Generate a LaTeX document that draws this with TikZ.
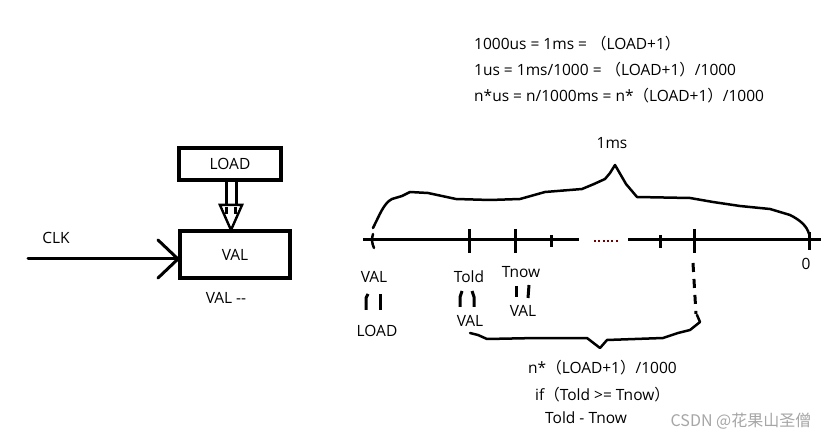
\documentclass[tikz,border=0pt]{standalone}
\usepackage{fontspec}
\usetikzlibrary{calc}
\setmainfont{Open Sans}
\newfontfamily\cjkfont{Noto Sans CJK SC}
\newcommand{\flp}{{\cjkfont （}}
\newcommand{\frp}{{\cjkfont ）}}
\begin{document}
\begin{tikzpicture}[x=1pt,y=-1pt,
  lbl/.style={inner sep=0pt,font=\fontsize{15.5}{17}\selectfont},
  boxst/.style={draw,line width=4pt,inner sep=0pt,font=\fontsize{15.5}{17}\selectfont},
  pen/.style={line width=3pt,line cap=round,line join=round},
  thin pen/.style={line width=2.5pt,line cap=round,line join=round},
  mark pen/.style={line width=3pt}]
\useasboundingbox[fill=white] (0,0) rectangle (840,443);

% top formulas
\node[lbl,anchor=west] (f1) at (474,44) {1000us = 1ms = \flp LOAD+1\frp};
\node[lbl,anchor=west] (f2) at (474,70) {1us = 1ms/1000 = \flp LOAD+1\frp /1000};
\node[lbl,anchor=west] (f3) at (474,96) {n*us = n/1000ms = n*\flp LOAD+1\frp /1000};

% left block diagram
\node[boxst,minimum width=102pt,minimum height=32pt] (load) at (230,164) {LOAD};
\node[boxst,minimum width=110pt,minimum height=47pt] (val) at (235,255) {VAL};
\node[lbl] (valdec) at (226,298) {VAL -{}-};
\node[lbl] (clk) at (56,238) {CLK};
\coordinate (clkin) at (28,259);
\draw[pen] (clkin) -- (val.west|-clkin);
\draw[pen] ($(val.west|-clkin)+(-20,-19)$) -- (val.west|-clkin) -- ($(val.west|-clkin)+(-20,19)$);
% double arrow LOAD -> VAL
\draw[line width=3pt] (226,182) -- (226,206);
\draw[line width=3pt] (236,182) -- (236,206);
\draw[line width=2.5pt,line join=miter] (220,205) -- (242,205) -- (231,230) -- cycle;
\fill[white] (222.5,207) -- (239.5,207) -- (231,226) -- cycle;
\draw[line width=3pt] (226.5,207) -- (226.5,214);
\draw[line width=3pt] (235.5,207) -- (235.5,214);

% timeline
\coordinate (tl0) at (363,240);
\coordinate (tl1) at (579,240);
\coordinate (tl2) at (628,240);
\coordinate (tl3) at (821,240);
\draw[pen,line cap=butt] (tl0) -- (tl1);
\draw[pen,line cap=butt] (tl2) -- (tl3);
\foreach \i in {0,...,5}
  \fill[red!45!black] ({594+4.3*\i},240) rectangle ++(2,2);
% ticks
\draw[thin pen] (373,234) to[bend right=20] (374,248);
\draw[mark pen] (469,229) -- (469,253);
\draw[mark pen] (515,229) -- (515,253);
\draw[mark pen] (551,235) -- (551,247);
\draw[mark pen] (660,235) -- (660,248);
\draw[mark pen] (694,229) -- (694,253);
\draw[mark pen] (809,232) -- (809,250);

% top brace
\draw[thin pen] (373,228) .. controls (380,214) and (384,203) .. (392,199)
  -- (402,196) -- (410,192) -- (428,193) -- (456,199) -- (490,200) -- (520,199)
  -- (545,192) -- (582,189) -- (594,184) -- (605,179) -- (610,173) -- (615,165)
  -- (626,184) -- (637,197) -- (690,198) -- (713,202) -- (740,206) -- (770,209)
  -- (790,215) .. controls (800,220) and (807,226) .. (809,234);
\node[lbl] (onems) at (612,143) {1ms};

% labels under timeline
\node[lbl] (valA) at (374,277) {VAL};
\draw[mark pen] (368,294) -- (366,298) -- (366,310);
\draw[mark pen] (380,294) -- (380,310);
\node[lbl] (loadA) at (377,331) {LOAD};

\node[lbl] (told) at (469,277) {Told};
\draw[mark pen] (462,291) -- (460,297) -- (460,307);
\draw[mark pen] (472,291) -- (474,297) -- (474,307);
\node[lbl] (valB) at (470,321) {VAL};

\node[lbl] (tnow) at (521,272) {Tnow};
\draw[mark pen] (516,286) -- (516,297);
\draw[mark pen] (529,285) -- (528,298);
\node[lbl] (valC) at (523,311) {VAL};

\node[lbl] (zero) at (806,264) {0};

% dashed drop and bottom brace
\draw[line width=3pt,dash pattern=on 9pt off 7pt] (693,263) -- (696,314);
\draw[thin pen] (470,333) -- (478,335) -- (487,339) -- (537,338) -- (587,338)
  -- (600,348) -- (607,340) -- (663,338) -- (678,333) -- (690,330) -- (700,322) -- (697,315);

\node[lbl,anchor=west] (r1) at (528,368) {n*\flp LOAD+1\frp /1000};
\node[lbl,anchor=west] (r2) at (535,395) {if\flp Told >= Tnow\frp};
\node[lbl,anchor=west] (r3) at (545,418) {Told - Tnow};
\node[inner sep=0pt,text=black!35,font=\cjkfont\fontsize{16}{18}\selectfont] (wm) at (741,421) {CSDN @花果山圣僧};
\end{tikzpicture}
\end{document}
